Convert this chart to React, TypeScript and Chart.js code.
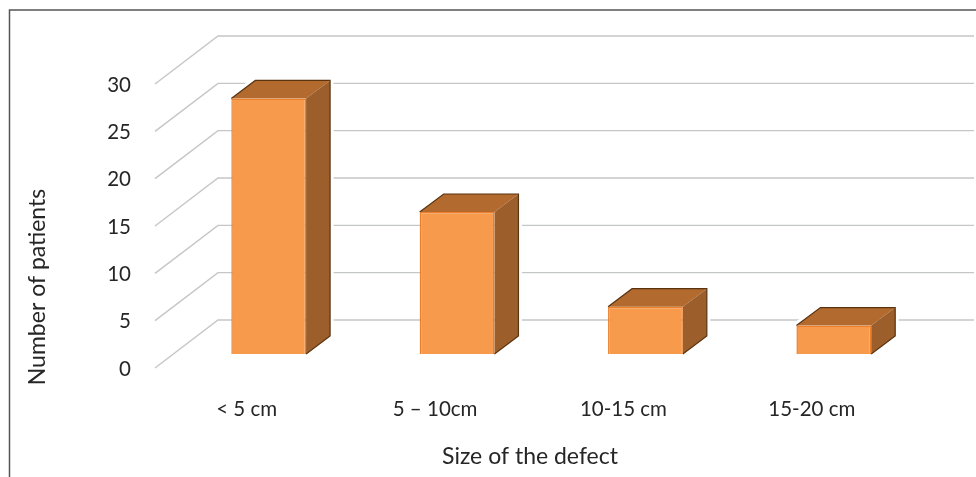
import React, { useEffect, useRef } from "react";
import { Chart, registerables } from "chart.js";

Chart.register(...registerables);

const categories = ["< 5 cm", "5 – 10cm", "10-15 cm", "15-20 cm"];
const patients = [27, 15, 5, 3];
const yMax = 30;
const yStep = 5;
const xTitle = "Size of the defect";
const yTitle = "Number of patients";

const FONT = "Lato, 'Open Sans', sans-serif";
const TEXT = "#262626";
const DEPTH_X = 24;
const DEPTH_Y = 18;

const box3d = {
  id: "box3d",
  beforeDraw(chart: any) {
    const { ctx } = chart;
    ctx.save();
    ctx.fillStyle = "#fff";
    ctx.fillRect(0, 0, chart.width, chart.height);
    ctx.strokeStyle = "#555";
    ctx.lineWidth = 1.5;
    ctx.beginPath();
    ctx.moveTo(9.5, chart.height);
    ctx.lineTo(9.5, 10);
    ctx.lineTo(chart.width, 10);
    ctx.stroke();
    ctx.restore();
  },
  beforeDatasetsDraw(chart: any) {
    const { ctx, scales } = chart;
    const y = scales.y;
    ctx.save();
    // back wall grid and side wall diagonals
    ctx.strokeStyle = "#c4c6c8";
    ctx.lineWidth = 1.4;
    for (const t of y.ticks) {
      const py = y.getPixelForValue(t.value);
      ctx.beginPath();
      ctx.moveTo(155, py + 14);
      ctx.lineTo(218, py - 34);
      ctx.lineTo(974, py - 34);
      ctx.stroke();
    }
    const meta = chart.getDatasetMeta(0);
    for (const bar of meta.data) {
      const p = bar.getProps(["x", "y", "base", "width"], true);
      const l = p.x - p.width / 2;
      const r = p.x + p.width / 2;
      const t = p.y;
      const b = p.base;
      // white halo separating the box from the grid
      ctx.strokeStyle = "#fff";
      ctx.lineWidth = 7;
      ctx.lineJoin = "round";
      ctx.beginPath();
      ctx.moveTo(l, t);
      ctx.lineTo(l + DEPTH_X, t - DEPTH_Y);
      ctx.lineTo(r + DEPTH_X, t - DEPTH_Y);
      ctx.lineTo(r + DEPTH_X, b - DEPTH_Y);
      ctx.lineTo(r, b);
      ctx.stroke();
      ctx.lineJoin = "miter";
      // top face
      ctx.fillStyle = "#b26a2e";
      ctx.beginPath();
      ctx.moveTo(l, t);
      ctx.lineTo(l + DEPTH_X, t - DEPTH_Y);
      ctx.lineTo(r + DEPTH_X, t - DEPTH_Y);
      ctx.lineTo(r, t);
      ctx.closePath();
      ctx.fill();
      // side face
      ctx.fillStyle = "#9c5f2b";
      ctx.beginPath();
      ctx.moveTo(r, t);
      ctx.lineTo(r + DEPTH_X, t - DEPTH_Y);
      ctx.lineTo(r + DEPTH_X, b - DEPTH_Y);
      ctx.lineTo(r, b);
      ctx.closePath();
      ctx.fill();
      // dark outer edges
      ctx.strokeStyle = "#5a3310";
      ctx.lineWidth = 1.2;
      ctx.beginPath();
      ctx.moveTo(l, t);
      ctx.lineTo(l + DEPTH_X, t - DEPTH_Y);
      ctx.lineTo(r + DEPTH_X, t - DEPTH_Y);
      ctx.lineTo(r + DEPTH_X, b - DEPTH_Y);
      ctx.lineTo(r, b);
      ctx.stroke();
    }
    ctx.restore();
  },
  afterDraw(chart: any) {
    const { ctx } = chart;
    ctx.save();
    ctx.fillStyle = TEXT;
    ctx.font = `23px ${FONT}`;
    ctx.textAlign = "center";
    ctx.textBaseline = "middle";
    ctx.fillText(xTitle, 530, 457);
    ctx.translate(38, 287);
    ctx.rotate(-Math.PI / 2);
    ctx.fillText(yTitle, 0, 0);
    ctx.restore();
  },
};

export default function App() {
  const ref = useRef<HTMLCanvasElement>(null);
  useEffect(() => {
    document.body.style.margin = "0";
    const chart = new Chart(ref.current!, {
      type: "bar",
      data: {
        labels: categories,
        datasets: [
          {
            data: patients,
            backgroundColor: "#f89a4b",
            borderColor: "#ec7f2c",
            borderWidth: 1.5,
            barPercentage: 0.397,
            categoryPercentage: 1,
          },
        ],
      },
      plugins: [box3d],
      options: {
        responsive: false,
        animation: false,
        devicePixelRatio: 1,
        layout: { padding: { left: 20, top: 70, right: 48, bottom: 0 } },
        plugins: { legend: { display: false }, tooltip: { enabled: false } },
        scales: {
          x: {
            grid: { display: false, drawTicks: false },
            border: { display: false },
            afterFit: (s: any) => {
              s.height = 123;
            },
            ticks: {
              color: TEXT,
              font: { family: FONT, size: 20.5 },
              padding: 43,
              labelOffset: -22,
              maxRotation: 0,
              autoSkip: false,
            },
          },
          y: {
            min: 0,
            max: yMax,
            grid: { display: false, drawTicks: false },
            border: { display: false },
            afterFit: (s: any) => {
              s.width = 154.5;
            },
            ticks: {
              stepSize: yStep,
              color: TEXT,
              font: { family: FONT, size: 20.5 },
              padding: 43.5,
              labelOffset: 15,
            },
          },
        },
      },
    } as any);
    return () => chart.destroy();
  }, []);
  return (
    <canvas
      ref={ref}
      width={976}
      height={477}
      style={{ display: "block", width: 976, height: 477, filter: "blur(0.5px)" }}
    />
  );
}
